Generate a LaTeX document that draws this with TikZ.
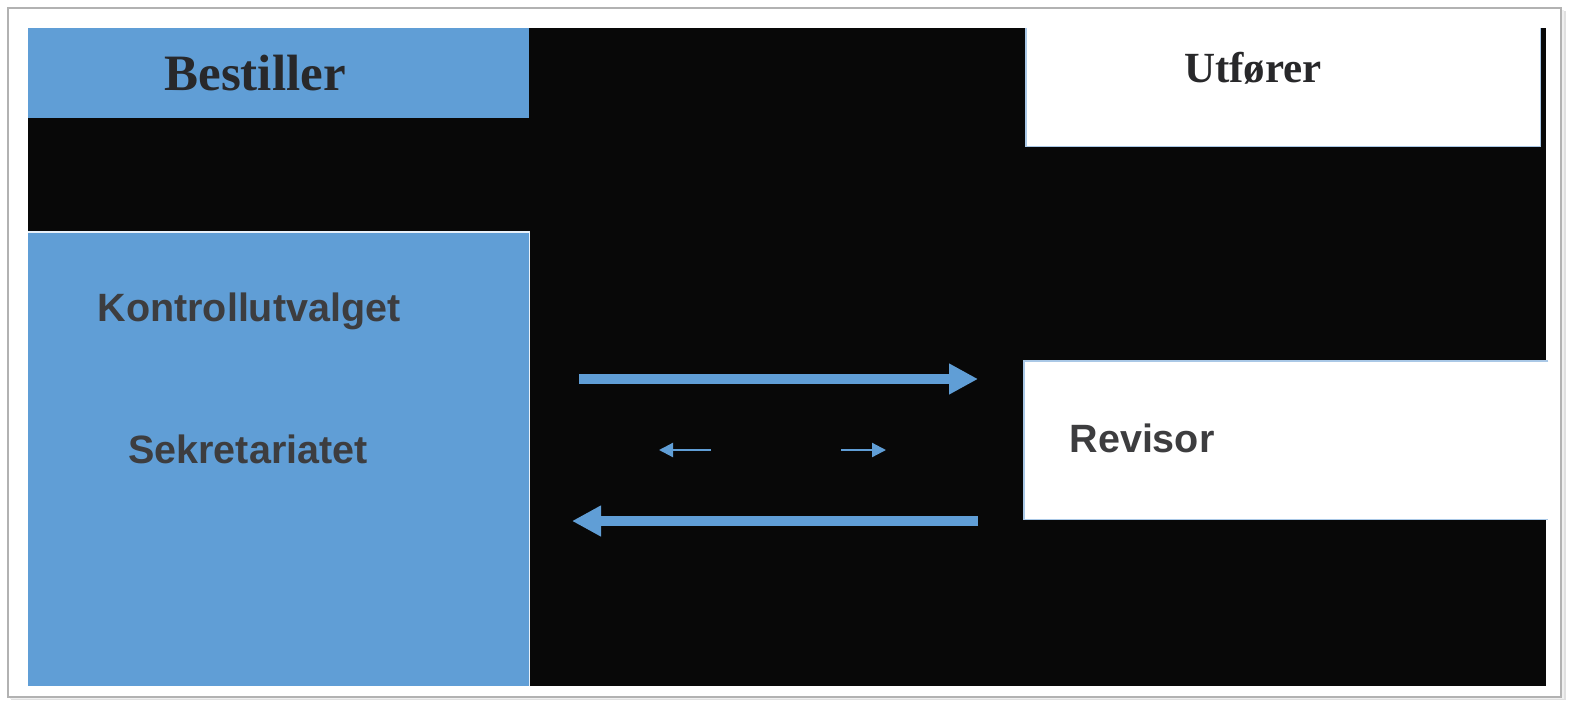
\documentclass[tikz,border=0pt]{standalone}
\usepackage{fontspec}
\setmainfont{Liberation Serif}
\newfontfamily\arialf{Liberation Sans}
\usetikzlibrary{arrows.meta}
\definecolor{bblue}{RGB}{96,158,214}
\definecolor{bgblack}{RGB}{8,8,8}
\definecolor{txtdark}{RGB}{40,40,42}
\definecolor{edgeblue}{RGB}{170,200,230}
\tikzset{
  bluebox/.style={fill=bblue, inner sep=0pt, anchor=north west},
  whitebox/.style={fill=white, inner sep=0pt, anchor=north west},
  serifhead/.style={font=\bfseries\fontsize{#1}{#1}\selectfont, text=txtdark, inner sep=0pt, anchor=base},
  sanslabel/.style={font=\arialf\bfseries\fontsize{39.5}{40}\selectfont, text=txtdark!90, inner sep=0pt, anchor=base},
  bigarrow/.style={draw=bblue, line width=10pt, -{Triangle[length=29pt,width=29pt]}},
  smallarrow/.style={draw=bblue, line width=2.2pt, -{Triangle[length=14pt,width=14pt]}},
}
\begin{document}
\begin{tikzpicture}[x=1pt,y=-1pt]
\useasboundingbox (0,0) rectangle (1573,701);
\fill[white] (0,0) rectangle (1573,701);
% frame with soft shadow
\fill[black!12] (11,11) rectangle (1566,700);
\fill[black!6] (10,10) rectangle (1564,699);
\filldraw[fill=white, draw=black!30, line width=1.2pt] (8,8) rectangle (1561,697);
% black background
\fill[bgblack] (28,28) rectangle (1546,686);

% boxes
\node[bluebox, minimum width=501pt, minimum height=90pt] (best) at (28,28) {};
\node[bluebox, minimum width=501pt, minimum height=454pt] (kont) at (28,232) {};
\draw[white!85!bblue, line width=1.5pt] (kont.south east) -- (kont.north east) -- (kont.north west);
\node[whitebox, minimum width=514pt, minimum height=118pt] (utf) at (1026,28) {};
\draw[edgeblue, line width=1.2pt] (utf.north west) -- (utf.south west) -- (utf.south east) -- (utf.north east);
\node[whitebox, minimum width=524pt, minimum height=158pt] (rev) at (1024,361) {};
\draw[edgeblue, line width=1.2pt] (rev.north east) -- (rev.north west) -- (rev.south west) -- (rev.south east);

% texts
\node[serifhead=51] (tbest) at (255,90) {Bestiller};
\node[serifhead=43] (tutf) at (1253,82) {Utfører};
\node[sanslabel] (tkont) at (249,321) {Kontrollutvalget};
\node[sanslabel] (tsek) at (248,463) {Sekretariatet};
\node[sanslabel] (trev) at (1142,452) {Revisor};

% arrows
\coordinate (a1s) at (579,379);
\coordinate (a1e) at (978,379);
\coordinate (a2s) at (978,521);
\coordinate (a2e) at (572,521);
\coordinate (a3s) at (711,450);
\coordinate (a3e) at (659,450);
\coordinate (a4s) at (841,450);
\coordinate (a4e) at (886,450);
\draw[bigarrow] (a1s) -- (a1e);
\draw[bigarrow] (a2s) -- (a2e);
\draw[smallarrow] (a3s) -- (a3e);
\draw[smallarrow] (a4s) -- (a4e);
\end{tikzpicture}
\end{document}
